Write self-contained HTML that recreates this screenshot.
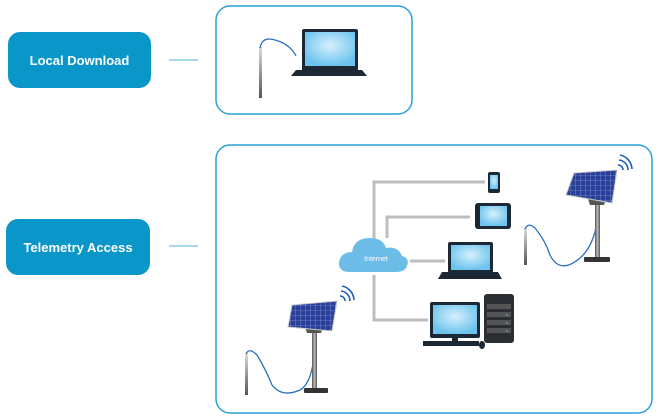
<!DOCTYPE html>
<html><head><style>
body{margin:0;background:#fff;width:659px;height:420px;overflow:hidden;position:relative;font-family:"Liberation Sans",sans-serif}
.btn{position:absolute;background:#0b96c9;border-radius:12px;color:#fff;font-weight:bold;font-size:13px;display:flex;align-items:center;justify-content:center}
</style></head><body>
<div class="btn" style="left:8px;top:32px;width:143px;height:56px">Local Download</div>
<div class="btn" style="left:6px;top:219px;width:144px;height:56px">Telemetry Access</div>
<svg width="659" height="420" style="position:absolute;left:0;top:0">
<defs>
<radialGradient id="scr" cx="50%" cy="40%" r="60%"><stop offset="0" stop-color="#d6f0fc"/><stop offset="1" stop-color="#6cc3ee"/></radialGradient>
<linearGradient id="prb" x1="0" y1="0" x2="0" y2="1"><stop offset="0" stop-color="#ddd"/><stop offset="1" stop-color="#555"/></linearGradient>
<linearGradient id="pol" x1="0" y1="0" x2="1" y2="0"><stop offset="0" stop-color="#555"/><stop offset=".5" stop-color="#bbb"/><stop offset="1" stop-color="#555"/></linearGradient>
<pattern id="cell" width="5" height="5" patternUnits="userSpaceOnUse"><rect width="5" height="5" fill="#2a3f9a"/><path d="M0 0H5M0 0V5" stroke="#9fb3e6" stroke-width=".6"/></pattern>
</defs>
<g stroke="#6fc3e3" stroke-width="1.2"><line x1="169" y1="60" x2="198" y2="60"/><line x1="169" y1="246" x2="198" y2="246"/></g>
<rect x="216" y="6" width="196" height="108" rx="14" fill="none" stroke="#2aa0d8" stroke-width="1.5"/>
<rect x="216" y="145" width="436" height="268" rx="14" fill="none" stroke="#2aa0d8" stroke-width="1.5"/>
<!-- box1 -->
<rect x="259" y="47" width="3" height="51" fill="url(#prb)"/>
<path d="M260 48 Q262 36 275 40 Q290 44 296 56" fill="none" stroke="#2a6fc0" stroke-width="1.3"/>
<rect x="302" y="29" width="56" height="42" rx="2" fill="#1c2833"/><rect x="305" y="32" width="50" height="34" fill="url(#scr)"/>
<path d="M296 70 H362 L367 76 H291 Z" fill="#1c2833"/>
<!-- network lines -->
<g stroke="#bdbdbd" stroke-width="3" fill="none">
<path d="M374 240 V182 H485"/><path d="M387 238 V217 H470"/><path d="M410 261 H445"/><path d="M374 275 V320 H428"/>
</g>
<path d="M350 272 Q338 272 339 262 Q341 252 352 252 Q354 238 370 238 Q383 238 386 248 Q398 246 402 256 Q410 258 407 266 Q405 272 396 272 Z" fill="#6bbde8"/>
<text x="376" y="261" fill="#fff" font-size="7" text-anchor="middle" font-family="Liberation Sans,sans-serif">Internet</text>
<rect x="488" y="172" width="12" height="21" rx="2" fill="#1c2833"/><rect x="490" y="175" width="8" height="14" fill="url(#scr)"/>
<rect x="475" y="203" width="36" height="26" rx="3" fill="#1c2833"/><rect x="480" y="206" width="27" height="20" fill="url(#scr)"/>
<rect x="448" y="242" width="45" height="31" rx="2" fill="#1c2833"/><rect x="451" y="245" width="39" height="25" fill="url(#scr)"/>
<path d="M442 272 H498 L502 279 H438 Z" fill="#1c2833"/>
<rect x="430" y="302" width="50" height="36" rx="2" fill="#1c2833"/><rect x="433" y="305" width="44" height="29" fill="url(#scr)"/>
<rect x="452" y="338" width="6" height="4" fill="#1c2833"/><rect x="423" y="341" width="56" height="5" fill="#1c2833"/><ellipse cx="482" cy="345" rx="3" ry="4" fill="#1c2833"/>
<rect x="484" y="294" width="30" height="49" rx="3" fill="#2b2f33"/>
<g fill="#555"><rect x="487" y="304" width="24" height="5"/><rect x="487" y="312" width="24" height="5"/><rect x="487" y="320" width="24" height="5"/><rect x="487" y="328" width="24" height="5"/></g>
<g fill="#4fc3f7"><circle cx="507" cy="315" r=".8"/><circle cx="507" cy="323" r=".8"/><circle cx="507" cy="331" r=".8"/></g>
<!-- solar right -->
<rect x="524" y="228" width="3" height="37" fill="url(#prb)"/>
<path d="M525 229 Q528 222 535 228 Q545 240 550 255 Q560 275 580 258 Q595 245 598 215" fill="none" stroke="#2a6fc0" stroke-width="1.3"/>
<rect x="595" y="203" width="5" height="56" fill="url(#pol)"/>
<path d="M588 199 H606 L604 205 H590 Z" fill="#555"/>
<rect x="584" y="257" width="26" height="5" rx="1" fill="#333"/>
<polygon points="574,173 617,170 612,203 566,195" fill="url(#cell)" stroke="#ccc" stroke-width="1"/>
<g fill="none" stroke="#1f5fb8" stroke-width="1.6"><path d="M618 165 a5 5 0 0 1 5 5"/><path d="M619 160 a10 10 0 0 1 9 10"/><path d="M620 155 a15 15 0 0 1 12 14"/></g>
<!-- solar left -->
<rect x="245" y="353" width="3" height="42" fill="url(#prb)"/>
<path d="M246 354 Q249 347 257 355 Q266 370 272 385 Q282 398 300 390 Q313 383 315 345" fill="none" stroke="#2a6fc0" stroke-width="1.3"/>
<rect x="312" y="330" width="5" height="59" fill="url(#pol)"/>
<path d="M305 327 H323 L321 333 H307 Z" fill="#555"/>
<rect x="304" y="388" width="24" height="5" rx="1" fill="#333"/>
<polygon points="292,305 337,301 332,331 288,327" fill="url(#cell)" stroke="#ccc" stroke-width="1"/>
<g fill="none" stroke="#1f5fb8" stroke-width="1.6"><path d="M340 296 a5 5 0 0 1 5 5"/><path d="M341 291 a10 10 0 0 1 9 10"/><path d="M342 286 a15 15 0 0 1 12 14"/></g>
</svg>
</body></html>
